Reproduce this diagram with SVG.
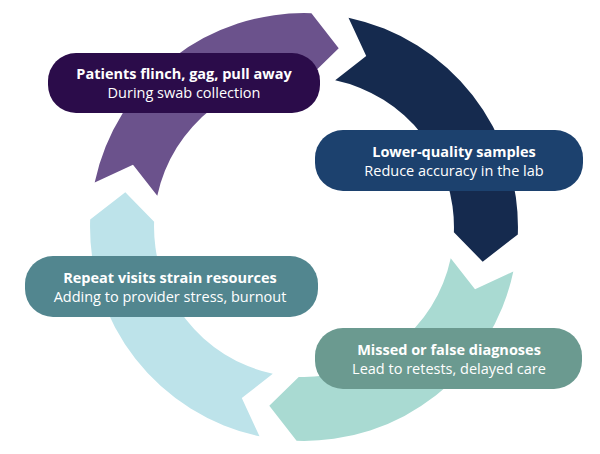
<svg xmlns="http://www.w3.org/2000/svg" width="600" height="454" viewBox="0 0 600 454">
<style>
.t1{font-family:"Open Sans","Liberation Sans",sans-serif;font-weight:700;font-size:14.5px;fill:#fff;text-anchor:middle}
.t2{font-family:"Open Sans","Liberation Sans",sans-serif;font-size:14.5px;fill:#fff;text-anchor:middle}
</style>
<defs><path id="arr" d="M518,227 A214,214 0 0 1 341.2,437.7 L307.2,409 L330,374.7 A150,150 0 0 0 454,227 L484.2,252.3 Z"/></defs>
<rect width="600" height="454" fill="#fff"/>
<g id="connectors">
<use href="#arr" fill="#6b528c" transform="rotate(192 304 227)"/>
<use href="#arr" fill="#152a4e" transform="rotate(282 304 227)"/>
<use href="#arr" fill="#a9dad2" transform="rotate(12 304 227)"/>
<use href="#arr" fill="#bde3ea" transform="rotate(102 304 227)"/>
</g>
<g id="n1"><rect x="48" y="53" width="272" height="60" rx="28" fill="#2b0c4a"/><text class="t1" x="184" y="79">Patients flinch, gag, pull away</text><text class="t2" x="184" y="98">During swab collection</text></g>
<g id="n2"><rect x="315" y="130" width="268" height="61" rx="28" fill="#1c416e"/><text class="t1" x="454" y="157">Lower-quality samples</text><text class="t2" x="454" y="176">Reduce accuracy in the lab</text></g>
<g id="n3"><rect x="315" y="328" width="267" height="61" rx="28" fill="#6b9a90"/><text class="t1" x="449" y="355">Missed or false diagnoses</text><text class="t2" x="449" y="374">Lead to retests, delayed care</text></g>
<g id="n4"><rect x="25" y="256" width="293" height="61" rx="28" fill="#52868f"/><text class="t1" x="170" y="283">Repeat visits strain resources</text><text class="t2" x="170" y="302">Adding to provider stress, burnout</text></g>
</svg>
